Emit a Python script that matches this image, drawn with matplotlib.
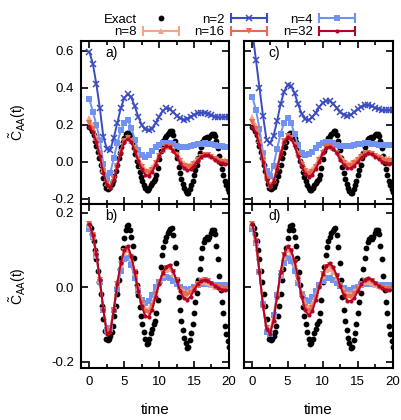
import matplotlib
matplotlib.use('Agg')
import matplotlib.pyplot as plt
from matplotlib.lines import Line2D
from matplotlib.legend_handler import HandlerTuple, HandlerLine2D
from matplotlib.ticker import MultipleLocator, FormatStrFormatter

plt.rcParams['font.family'] = ['Liberation Sans', 'DejaVu Sans']
plt.rcParams['mathtext.default'] = 'regular'
plt.rcParams['axes.unicode_minus'] = False

# time grids
t_ex = [0.0, 0.2, 0.4, 0.6, 0.8, 1.0, 1.2, 1.4, 1.6, 1.8,
        2.0, 2.2, 2.4, 2.6, 2.8, 3.0, 3.2, 3.4, 3.6, 3.8,
        4.0, 4.2, 4.4, 4.6, 4.8, 5.0, 5.2, 5.4, 5.6, 5.8,
        6.0, 6.2, 6.4, 6.6, 6.8, 7.0, 7.2, 7.4, 7.6, 7.8,
        8.0, 8.2, 8.4, 8.6, 8.8, 9.0, 9.2, 9.4, 9.6, 9.8,
        10.0, 10.2, 10.4, 10.6, 10.8, 11.0, 11.2, 11.4, 11.6, 11.8,
        12.0, 12.2, 12.4, 12.6, 12.8, 13.0, 13.2, 13.4, 13.6, 13.8,
        14.0, 14.2, 14.4, 14.6, 14.8, 15.0, 15.2, 15.4, 15.6, 15.8,
        16.0, 16.2, 16.4, 16.6, 16.8, 17.0, 17.2, 17.4, 17.6, 17.8,
        18.0, 18.2, 18.4, 18.6, 18.8, 19.0, 19.2, 19.4, 19.6, 19.8,
        20.0]
t_n = [0.0, 0.5, 1.0, 1.5, 2.0, 2.5, 3.0, 3.5, 4.0, 4.5,
       5.0, 5.5, 6.0, 6.5, 7.0, 7.5, 8.0, 8.5, 9.0, 9.5,
       10.0, 10.5, 11.0, 11.5, 12.0, 12.5, 13.0, 13.5, 14.0, 14.5,
       15.0, 15.5, 16.0, 16.5, 17.0, 17.5, 18.0, 18.5, 19.0, 19.5,
       20.0]

# exact results
exact_top = [0.190, 0.182, 0.165, 0.143, 0.115, 0.085, 0.052, 0.018, -0.017, -0.052,
             -0.088, -0.120, -0.140, -0.147, -0.143, -0.135, -0.122, -0.103, -0.078, -0.050,
             -0.018, 0.020, 0.050, 0.078, 0.105, 0.130, 0.148, 0.155, 0.155, 0.145,
             0.128, 0.105, 0.076, 0.040, 0.003, -0.025, -0.055, -0.080, -0.102, -0.123,
             -0.143, -0.155, -0.152, -0.140, -0.126, -0.114, -0.102, -0.092, -0.072, -0.036,
             0.015, 0.057, 0.090, 0.112, 0.130, 0.142, 0.150, 0.158, 0.165, 0.168,
             0.145, 0.110, 0.066, 0.020, -0.026, -0.062, -0.093, -0.118, -0.140, -0.157,
             -0.170, -0.166, -0.146, -0.125, -0.102, -0.072, -0.042, -0.016, 0.020, 0.050,
             0.078, 0.105, 0.122, 0.130, 0.133, 0.130, 0.136, 0.146, 0.152, 0.153,
             0.140, 0.110, 0.073, 0.030, -0.008, -0.040, -0.072, -0.105, -0.128, -0.148,
             -0.163]
exact_bot = [0.167, 0.160, 0.143, 0.125, 0.100, 0.075, 0.045, 0.015, -0.017, -0.050,
             -0.085, -0.118, -0.140, -0.143, -0.138, -0.130, -0.120, -0.103, -0.078, -0.050,
             -0.018, 0.020, 0.050, 0.078, 0.105, 0.133, 0.153, 0.165, 0.168, 0.155,
             0.135, 0.110, 0.080, 0.042, 0.005, -0.022, -0.052, -0.077, -0.100, -0.120,
             -0.140, -0.153, -0.150, -0.138, -0.124, -0.112, -0.100, -0.090, -0.070, -0.034,
             0.015, 0.055, 0.088, 0.108, 0.125, 0.136, 0.145, 0.152, 0.158, 0.160,
             0.140, 0.108, 0.065, 0.020, -0.025, -0.060, -0.090, -0.114, -0.135, -0.150,
             -0.162, -0.160, -0.142, -0.122, -0.100, -0.070, -0.040, -0.015, 0.020, 0.050,
             0.078, 0.105, 0.122, 0.130, 0.134, 0.130, 0.136, 0.146, 0.153, 0.155,
             0.143, 0.112, 0.075, 0.030, -0.008, -0.040, -0.070, -0.103, -0.126, -0.145,
             -0.160]

# panel a
a_n2 = [0.595, 0.53, 0.42, 0.29, 0.135, 0.072, 0.065, 0.13, 0.21, 0.29,
        0.345, 0.365, 0.35, 0.30, 0.245, 0.20, 0.175, 0.17, 0.18, 0.21,
        0.245, 0.275, 0.29, 0.285, 0.27, 0.25, 0.235, 0.228, 0.232, 0.245,
        0.255, 0.262, 0.265, 0.265, 0.26, 0.252, 0.245, 0.24, 0.24, 0.242,
        0.243]
a_n4 = [0.34, 0.27, 0.20, 0.12, -0.01, -0.085, -0.06, 0.02, 0.10, 0.17,
        0.21, 0.225, 0.185, 0.12, 0.065, 0.035, 0.028, 0.038, 0.058, 0.078,
        0.093, 0.10, 0.104, 0.10, 0.094, 0.086, 0.08, 0.078, 0.08, 0.085,
        0.09, 0.095, 0.098, 0.10, 0.098, 0.095, 0.09, 0.086, 0.083, 0.082,
        0.082]
a_n8 = [0.235, 0.195, 0.13, 0.05, -0.045, -0.115, -0.13, -0.09, -0.015, 0.06,
        0.115, 0.135, 0.115, 0.075, 0.025, -0.015, -0.04, -0.045, -0.03, 0.0,
        0.035, 0.065, 0.08, 0.078, 0.062, 0.04, 0.015, -0.005, -0.015, -0.012,
        0.0, 0.015, 0.028, 0.035, 0.035, 0.03, 0.022, 0.015, 0.01, 0.008,
        0.008]
a_n16 = [0.21, 0.175, 0.115, 0.04, -0.052, -0.12, -0.135, -0.095, -0.02, 0.055,
         0.11, 0.13, 0.11, 0.068, 0.015, -0.028, -0.055, -0.06, -0.042, -0.008,
         0.032, 0.065, 0.082, 0.079, 0.061, 0.035, 0.005, -0.02, -0.03, -0.026,
         -0.01, 0.01, 0.027, 0.035, 0.035, 0.028, 0.017, 0.007, 0.0, -0.002,
         -0.002]
a_n32 = [0.19, 0.16, 0.105, 0.03, -0.06, -0.125, -0.14, -0.10, -0.025, 0.05,
         0.105, 0.125, 0.105, 0.06, 0.005, -0.04, -0.07, -0.075, -0.055, -0.015,
         0.03, 0.065, 0.083, 0.08, 0.06, 0.03, -0.005, -0.033, -0.045, -0.04,
         -0.02, 0.005, 0.025, 0.035, 0.035, 0.025, 0.012, 0.0, -0.008, -0.012,
         -0.012]

# panel c
c_n2 = [0.70, 0.55, 0.40, 0.25, 0.12, 0.10, 0.14, 0.22, 0.31, 0.38,
        0.415, 0.41, 0.37, 0.31, 0.26, 0.23, 0.225, 0.24, 0.265, 0.295,
        0.32, 0.33, 0.33, 0.315, 0.29, 0.268, 0.255, 0.25, 0.255, 0.268,
        0.285, 0.298, 0.305, 0.305, 0.30, 0.292, 0.285, 0.28, 0.278, 0.278,
        0.28]
c_n4 = [0.35, 0.28, 0.18, 0.05, -0.05, -0.075, -0.02, 0.07, 0.15, 0.21,
        0.235, 0.21, 0.15, 0.09, 0.05, 0.037, 0.04, 0.055, 0.075, 0.09,
        0.10, 0.105, 0.105, 0.10, 0.092, 0.086, 0.083, 0.083, 0.086, 0.09,
        0.095, 0.098, 0.10, 0.10, 0.098, 0.095, 0.092, 0.09, 0.089, 0.089,
        0.09]
c_n8 = [0.24, 0.195, 0.12, 0.02, -0.085, -0.125, -0.10, -0.03, 0.05, 0.115,
        0.14, 0.13, 0.095, 0.045, -0.005, -0.04, -0.05, -0.04, -0.015, 0.02,
        0.055, 0.08, 0.085, 0.075, 0.055, 0.03, 0.008, -0.005, -0.005, 0.005,
        0.02, 0.035, 0.045, 0.048, 0.045, 0.038, 0.03, 0.024, 0.02, 0.018,
        0.018]
c_n16 = [0.215, 0.175, 0.105, 0.01, -0.092, -0.13, -0.105, -0.035, 0.045, 0.11,
         0.138, 0.128, 0.09, 0.038, -0.015, -0.052, -0.065, -0.055, -0.028, 0.01,
         0.05, 0.078, 0.084, 0.072, 0.05, 0.021, -0.005, -0.02, -0.02, -0.008,
         0.01, 0.028, 0.042, 0.046, 0.042, 0.033, 0.022, 0.012, 0.006, 0.003,
         0.003]
c_n32 = [0.19, 0.155, 0.09, 0.0, -0.10, -0.135, -0.11, -0.04, 0.04, 0.105,
         0.135, 0.125, 0.085, 0.03, -0.025, -0.065, -0.08, -0.07, -0.04, 0.0,
         0.045, 0.075, 0.082, 0.07, 0.045, 0.012, -0.018, -0.035, -0.035, -0.02,
         0.0, 0.022, 0.038, 0.045, 0.04, 0.028, 0.013, 0.0, -0.008, -0.012,
         -0.012]

# panel b
b_n4 = [0.158, 0.135, 0.085, 0.015, -0.06, -0.115, -0.11, -0.06, -0.005, 0.045,
        0.075, 0.08, 0.06, 0.025, -0.01, -0.035, -0.042, -0.036, -0.02, 0.0,
        0.015, 0.025, 0.028, 0.025, 0.017, 0.008, 0.0, -0.005, -0.006, -0.004,
        0.0, 0.005, 0.008, 0.01, 0.01, 0.009, 0.007, 0.006, 0.005, 0.005,
        0.005]
b_n8 = [0.168, 0.138, 0.088, 0.02, -0.058, -0.12, -0.113, -0.056, 0.008, 0.06,
        0.093, 0.10, 0.078, 0.038, -0.003, -0.036, -0.056, -0.058, -0.042, -0.014,
        0.014, 0.034, 0.046, 0.048, 0.037, 0.018, 0.0, -0.011, -0.013, -0.007,
        0.002, 0.01, 0.014, 0.014, 0.011, 0.006, 0.002, 0.0, -0.001, -0.001,
        -0.001]
b_n16 = [0.17, 0.14, 0.09, 0.02, -0.06, -0.123, -0.118, -0.06, 0.008, 0.062,
         0.097, 0.106, 0.082, 0.04, -0.005, -0.042, -0.066, -0.068, -0.05, -0.018,
         0.014, 0.038, 0.052, 0.055, 0.042, 0.02, -0.003, -0.018, -0.022, -0.015,
         -0.002, 0.01, 0.017, 0.019, 0.016, 0.01, 0.004, 0.0, -0.003, -0.004,
         -0.004]
b_n32 = [0.17, 0.14, 0.09, 0.02, -0.06, -0.125, -0.12, -0.06, 0.01, 0.065,
         0.10, 0.11, 0.085, 0.04, -0.01, -0.05, -0.078, -0.08, -0.06, -0.025,
         0.01, 0.038, 0.055, 0.06, 0.045, 0.018, -0.01, -0.028, -0.034, -0.025,
         -0.008, 0.008, 0.017, 0.02, 0.018, 0.012, 0.004, -0.002, -0.006, -0.008,
         -0.008]

# panel d
d_n4 = [0.158, 0.118, 0.04, -0.045, -0.12, -0.125, -0.075, -0.02, 0.03, 0.065,
        0.078, 0.07, 0.045, 0.012, -0.018, -0.034, -0.036, -0.027, -0.01, 0.006,
        0.018, 0.024, 0.024, 0.019, 0.011, 0.003, -0.003, -0.006, -0.006, -0.003,
        0.001, 0.005, 0.008, 0.009, 0.009, 0.008, 0.007, 0.006, 0.006, 0.006,
        0.006]
d_n8 = [0.168, 0.123, 0.04, -0.048, -0.106, -0.118, -0.085, -0.025, 0.035, 0.082,
        0.10, 0.092, 0.063, 0.023, -0.016, -0.043, -0.052, -0.044, -0.022, 0.004,
        0.03, 0.046, 0.05, 0.042, 0.026, 0.007, -0.008, -0.016, -0.016, -0.01,
        0.0, 0.009, 0.014, 0.015, 0.012, 0.007, 0.003, 0.001, 0.0, 0.0,
        0.0]
d_n16 = [0.17, 0.125, 0.04, -0.05, -0.11, -0.122, -0.088, -0.025, 0.038, 0.087,
         0.106, 0.097, 0.067, 0.024, -0.02, -0.052, -0.064, -0.055, -0.028, 0.003,
         0.035, 0.055, 0.06, 0.05, 0.03, 0.005, -0.015, -0.026, -0.027, -0.018,
         -0.004, 0.01, 0.018, 0.02, 0.016, 0.009, 0.002, -0.002, -0.004, -0.005,
         -0.005]
d_n32 = [0.17, 0.125, 0.04, -0.05, -0.112, -0.125, -0.09, -0.025, 0.04, 0.09,
         0.11, 0.10, 0.07, 0.025, -0.025, -0.062, -0.075, -0.065, -0.035, 0.0,
         0.035, 0.058, 0.064, 0.055, 0.032, 0.003, -0.022, -0.036, -0.038, -0.028,
         -0.01, 0.008, 0.02, 0.024, 0.02, 0.012, 0.003, -0.003, -0.006, -0.008,
         -0.008]

styles = {
    'n=2': dict(color='#3b4cc0', marker='x', ms=4.5, mew=1.1),
    'n=4': dict(color='#6f92f3', marker='s', ms=4.8, mew=0),
    'n=8': dict(color='#f4a586', marker='^', ms=4.8, mew=0),
    'n=16': dict(color='#e7694e', marker='v', ms=4.8, mew=0),
    'n=32': dict(color='#b40426', marker='o', ms=3.0, mew=0),
}

panels = [
    ('a)', exact_top, {'n=2': a_n2, 'n=4': a_n4, 'n=8': a_n8, 'n=16': a_n16, 'n=32': a_n32}),
    ('c)', exact_top, {'n=2': c_n2, 'n=4': c_n4, 'n=8': c_n8, 'n=16': c_n16, 'n=32': c_n32}),
    ('b)', exact_bot, {'n=4': b_n4, 'n=8': b_n8, 'n=16': b_n16, 'n=32': b_n32}),
    ('d)', exact_bot, {'n=4': d_n4, 'n=8': d_n8, 'n=16': d_n16, 'n=32': d_n32}),
]

fig = plt.figure(figsize=(4.02, 4.20), dpi=100)
rects = [
    [0.2015, 0.5143, 0.368, 0.388],
    [0.607, 0.5143, 0.3706, 0.388],
    [0.2015, 0.1238, 0.368, 0.3905],
    [0.607, 0.1238, 0.3706, 0.3905],
]

for i, (lab, ex, series) in enumerate(panels):
    ax = fig.add_axes(rects[i])
    ax.plot(t_ex, ex, ls='none', marker='o', ms=4.2, color='black', mew=0)
    for name, vals in series.items():
        ax.plot(t_n, vals, lw=1.4, **styles[name])
    ax.set_xlim(-1.2, 20)
    top = i < 2
    if top:
        ax.set_ylim(-0.228, 0.653)
    else:
        ax.set_ylim(-0.217, 0.224)
    ax.xaxis.set_major_locator(MultipleLocator(5))
    ax.xaxis.set_minor_locator(MultipleLocator(2.5))
    ax.yaxis.set_major_locator(MultipleLocator(0.2))
    ax.yaxis.set_major_formatter(FormatStrFormatter('%.1f'))
    ax.tick_params(which='both', direction='in', top=True, right=True, width=1.2)
    ax.tick_params(which='major', length=5, labelsize=9.5)
    ax.tick_params(which='minor', length=3)
    ax.tick_params(axis='x', pad=6)
    ax.tick_params(axis='y', pad=5)
    for sp in ax.spines.values():
        sp.set_linewidth(1.5)
    if top:
        ax.tick_params(axis='x', labelbottom=False)
    else:
        ax.set_xlabel('time', fontsize=11)
        ax.xaxis.set_label_coords(0.5, -0.215)
    if i % 2 == 1:
        ax.tick_params(axis='y', labelleft=False)
    else:
        ax.set_ylabel(r'$\tilde{C}_{AA}(t)$', fontsize=10)
        ax.yaxis.set_label_coords(-0.36, 0.5)
    ax.text(0.165, 0.925, lab, transform=ax.transAxes, fontsize=10, va='center', ha='left')

# legend in gnuplot key style
hmap = {tuple: HandlerTuple(ndivide=1)}
handles = {}
handles['Exact'] = Line2D([], [], ls='none', marker='o', ms=4.2, color='black', mew=0)
for name, st in styles.items():
    cap = Line2D([], [], color=st['color'], lw=1.5, marker='|', ms=7, mew=1.5)
    sym = Line2D([], [], ls='none', **st)
    hmap[cap] = HandlerLine2D(numpoints=2, marker_pad=0)
    handles[name] = (cap, sym)

order = ['Exact', 'n=8', 'n=2', 'n=16', 'n=4', 'n=32']
fig.legend([handles[k] for k in order], order, handler_map=hmap, ncol=3,
           loc='center', bbox_to_anchor=(0.57, 0.938), frameon=False,
           markerfirst=False, handlelength=2.7, handletextpad=0.5,
           columnspacing=1.2, labelspacing=0.0, fontsize=9.5, borderpad=0)

fig.savefig('out.png', dpi=100)
